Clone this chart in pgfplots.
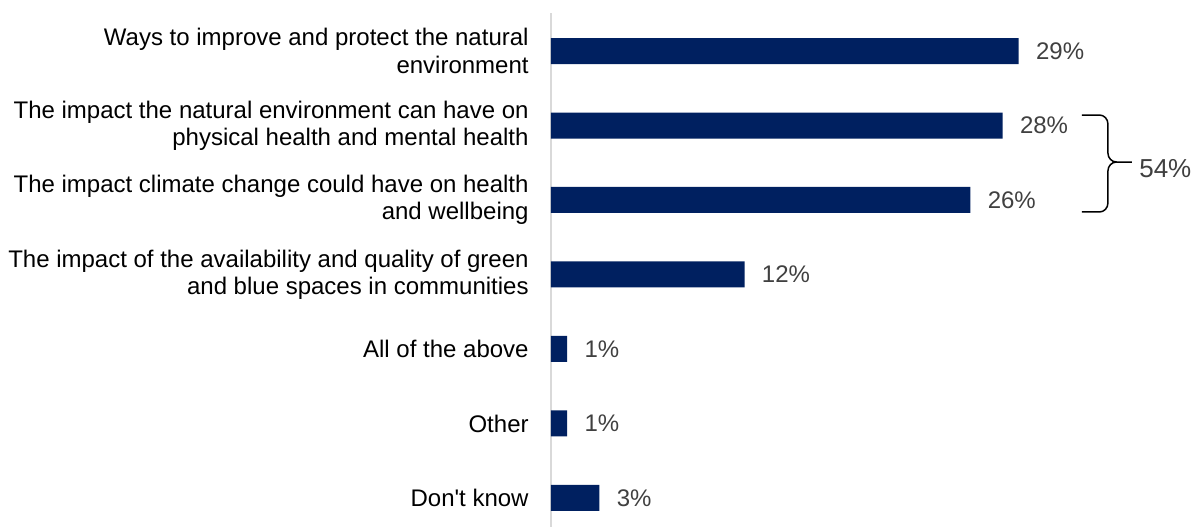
\documentclass[border=0pt]{standalone}
\usepackage{pgfplots}
\pgfplotsset{compat=1.18}
\usepackage{fontspec}
\setmainfont{Liberation Sans}
\definecolor{barblue}{HTML}{002060}
\definecolor{valgray}{HTML}{404040}
\definecolor{axgray}{HTML}{D9D9D9}
\begin{document}
\begin{tikzpicture}
\begin{axis}[
  at={(0,0)}, anchor=south west,
  scale only axis,
  width=274.2pt, height=257pt,
  xbar, bar width=13pt,
  xmin=0, xmax=34,
  ymin=-0.51, ymax=6.39,
  y dir=reverse,
  enlargelimits=false,
  clip=false,
  axis x line=none,
  axis y line=left,
  y axis line style={-, draw=axgray, line width=1pt},
  major tick length=0pt,
  ytick={0,1,2,3,4,5,6},
  yticklabels={
    {Ways to improve and protect the natural\\environment},
    {The impact the natural environment can have on\\physical health and mental health},
    {The impact climate change could have on health\\and wellbeing},
    {The impact of the availability and quality of green\\and blue spaces in communities},
    {All of the above},
    {Other},
    {Don\textquotesingle t know}},
  yticklabel style={align=right, anchor=east, inner sep=0pt, xshift=-11pt,
    font=\fontsize{12}{13.6}\selectfont, text=black},
  point meta=x,
  nodes near coords={\pgfmathprintnumber{\pgfplotspointmeta}\%},
  nodes near coords style={anchor=west, inner sep=0pt, xshift=8.5pt,
    font=\fontsize{12}{13.5}\selectfont, text=valgray,
    /pgf/number format/assume math mode=true},
]
\addplot[fill=barblue, draw=none] coordinates {
  (29,0) (28,1) (26,2) (12,3) (1,4) (1,5) (3,6)
};
\draw[black, line width=0.75pt]
  (axis cs:32.92,0.859) -- (axis cs:34.00,0.859)
  to[out=0,in=90] (axis cs:34.53,0.98) -- (axis cs:34.53,1.37)
  to[out=-90,in=180] (axis cs:35.06,1.490) -- (axis cs:36.02,1.490);
\draw[black, line width=0.75pt]
  (axis cs:35.06,1.490) to[out=180,in=90] (axis cs:34.53,1.61)
  -- (axis cs:34.53,2.04)
  to[out=-90,in=0] (axis cs:34.00,2.161) -- (axis cs:32.92,2.161);
\node[anchor=west, inner sep=0pt, text=valgray, font=\fontsize{13}{15}\selectfont]
  at (axis cs:36.45,1.584) {54\%};
\end{axis}
\pgfresetboundingbox
\useasboundingbox (-275.5pt,0pt) rectangle (320.5pt,263.5pt);
\end{tikzpicture}
\end{document}
